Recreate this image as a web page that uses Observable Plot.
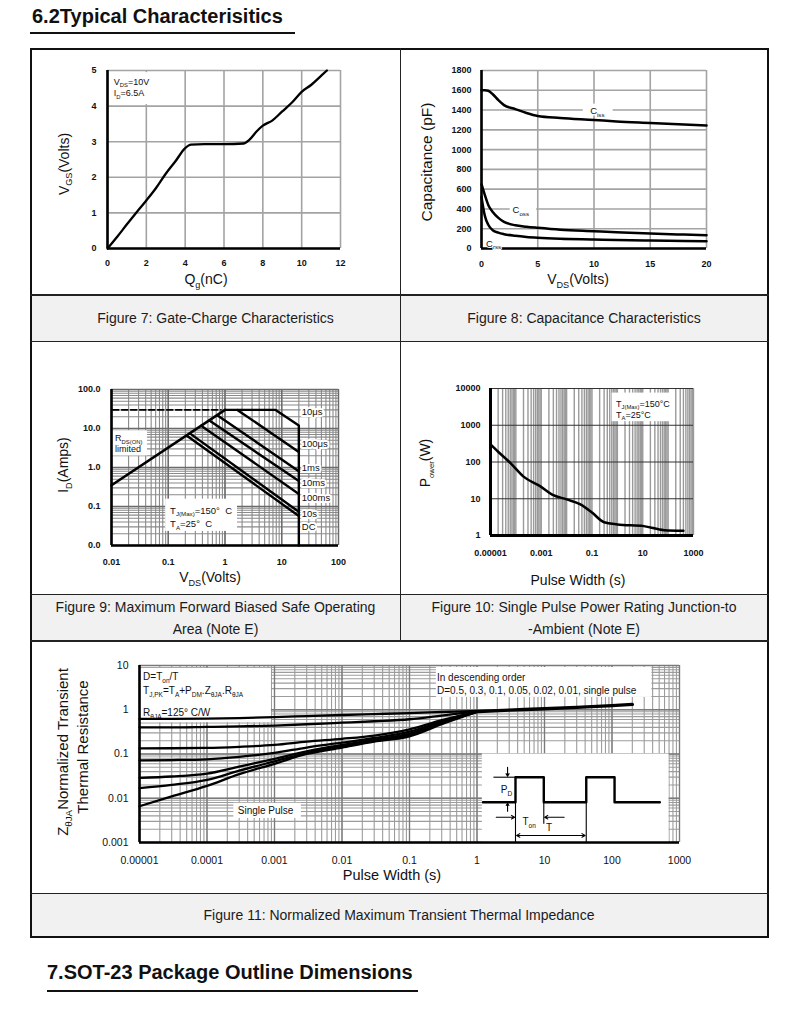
<!DOCTYPE html>
<html>
<head>
<meta charset="utf-8">
<script src="https://cdn.jsdelivr.net/npm/d3@7"></script>
<script src="https://cdn.jsdelivr.net/npm/@observablehq/plot@0.6"></script>
<style>
  html,body{margin:0;padding:0;background:#fff;}
  #page{position:relative;width:790px;height:1026px;overflow:hidden;background:#fff;font-family:"Liberation Sans",Arial,Helvetica,sans-serif;color:#111;}
  .blk{position:absolute;}
  .ttl{position:absolute;font-weight:bold;font-size:20px;line-height:20px;white-space:nowrap;color:#111;}
  .cap{position:absolute;display:flex;flex-direction:column;align-items:center;justify-content:center;font-size:14px;line-height:22px;color:#1b1b1b;text-align:center;background:#f1f1f1;}
</style>
</head>
<body>
<div id="page"></div>
<script>
// ================= DATA =================
const heading1 = "6.2Typical Characterisitics";
const heading2 = "7.SOT-23 Package Outline Dimensions";
const captionFig7 = ["Figure 7: Gate-Charge Characteristics"];
const captionFig8 = ["Figure 8: Capacitance Characteristics"];
const captionFig9 = ["Figure 9: Maximum Forward Biased Safe Operating", "Area (Note E)"];
const captionFig10 = ["Figure 10: Single Pulse Power Rating Junction-to", "-Ambient (Note E)"];
const captionFig11 = ["Figure 11: Normalized Maximum Transient Thermal Impedance"];

// Figure 7: gate charge
const gateQ = [0, 0.5, 1, 1.5, 2, 2.5, 3, 3.5, 4, 4.3, 5, 6, 7, 7.3, 7.7, 8, 8.5, 9, 9.5, 10, 10.5, 11, 11.3];
const gateV = [0, 0.33, 0.68, 1.02, 1.35, 1.7, 2.1, 2.45, 2.82, 2.92, 2.93, 2.93, 2.95, 3.05, 3.3, 3.45, 3.6, 3.85, 4.1, 4.4, 4.6, 4.85, 5];
const gateTicksX = [0, 2, 4, 6, 8, 10, 12];
const gateTicksY = [0, 1, 2, 3, 4, 5];

// Figure 8: capacitance
const capVds  = [0, 0.3, 0.6, 1, 1.5, 2, 3, 4, 5, 7, 10, 12, 15, 18, 20];
const capCiss = [1600, 1600, 1595, 1560, 1500, 1450, 1410, 1370, 1340, 1320, 1300, 1285, 1270, 1255, 1245];
const capCoss = [650, 540, 440, 370, 310, 270, 235, 220, 209, 190, 175, 165, 151, 141, 135];
const capCrss = [520, 330, 240, 185, 160, 145, 128, 116, 108, 98, 91, 86, 81, 77, 74];
const capTicksX = [0, 5, 10, 15, 20];
const capTicksY = [0, 200, 400, 600, 800, 1000, 1200, 1400, 1600, 1800];

// Figure 9: safe operating area
const soaTicksX = [0.01, 0.1, 1, 10, 100];
const soaTickLabelsX = ["0.01", "0.1", "1", "10", "100"];
const soaTicksY = [0.01, 0.1, 1, 10, 100];
const soaTickLabelsY = ["0.0", "0.1", "1.0", "10.0", "100.0"];
const soaRdsV = [0.01, 1],          soaRdsI = [0.35, 30];
const soa10usV = [1, 7.8, 20, 20],  soa10usI = [30, 30, 12, 0.01];
const soa100usV = [1.65, 20],       soa100usI = [30, 2.5];
const soa1msV = [0.73, 20],         soa1msI = [22, 0.8];
const soa10msV = [0.53, 20],        soa10msI = [16, 0.45];
const soa100msV = [0.38, 20],       soa100msI = [11.8, 0.21];
const soa10sV = [0.24, 20],         soa10sI = [7.5, 0.073];
const soaDcV = [0.21, 20],          soaDcI = [6.6, 0.057];
const soaDashV = [0.0105, 0.85],    soaDashI = [30, 30];
const soaLabels = ["10\u03bcs", "100\u03bcs", "1ms", "10ms", "100ms", "10s", "DC"];
const soaLabelI = [25.5, 4.04, 0.97, 0.4, 0.163, 0.063, 0.029];

// Figure 10: single pulse power
const ppT = [1e-5, 2e-5, 6e-5, 2e-4, 9e-4, 2.7e-3, 0.01, 0.035, 0.1, 0.3, 1, 11, 70, 400];
const ppP = [300, 190, 95, 40, 22, 13, 9.6, 7, 4.2, 2.3, 2.0, 1.8, 1.4, 1.35];
const ppTicksX = [1e-5, 1e-3, 0.1, 10, 1000];
const ppTickLabelsX = ["0.00001", "0.001", "0.1", "10", "1000"];
const ppTicksY = [1, 10, 100, 1000, 10000];
const ppTickLabelsY = ["1", "10", "100", "1000", "10000"];

// Figure 11: transient thermal impedance
const thT     = [1e-5, 3e-5, 1e-4, 3e-4, 1e-3, 3e-3, 0.01, 0.03, 0.1, 0.3, 1];
const thZ05   = [0.62, 0.62, 0.63, 0.65, 0.68, 0.72, 0.76, 0.80, 0.84, 0.89, 0.94];
const thZ03   = [0.40, 0.40, 0.41, 0.42, 0.44, 0.47, 0.51, 0.55, 0.61, 0.74, 0.93];
const thZ01   = [0.134, 0.135, 0.137, 0.145, 0.16, 0.19, 0.22, 0.26, 0.36, 0.58, 0.91];
const thZ005  = [0.072, 0.073, 0.076, 0.086, 0.106, 0.14, 0.18, 0.23, 0.32, 0.54, 0.90];
const thZ002  = [0.029, 0.031, 0.036, 0.052, 0.078, 0.115, 0.16, 0.21, 0.29, 0.51, 0.90];
const thZ001  = [0.017, 0.02, 0.026, 0.042, 0.068, 0.105, 0.15, 0.2, 0.27, 0.49, 0.90];
const thZsgl  = [0.0066, 0.011, 0.019, 0.035, 0.06, 0.1, 0.14, 0.19, 0.25, 0.47, 0.90];
const thDuty  = ["0.5", "0.3", "0.1", "0.05", "0.02", "0.01", "single"];
const thTailT = [1, 3, 10, 30, 100, 200];
const thTailZ = [0.91, 0.98, 1.05, 1.13, 1.24, 1.32];
const thTicksX = [1e-5, 1e-4, 1e-3, 0.01, 0.1, 1, 10, 100, 1000];
const thTickLabelsX = ["0.00001", "0.0001", "0.001", "0.01", "0.1", "1", "10", "100", "1000"];
const thTicksY = [0.001, 0.01, 0.1, 1, 10];
const thTickLabelsY = ["0.001", "0.01", "0.1", "1", "10"];

// Pulse diagram inset (units: Ton = 1, pulse height = 1)
const pulseWaveT = [-1.15, 0, 0, 1, 1, 2.5, 2.5, 3.5, 3.5, 5.1];
const pulseWaveL = [0, 0, 1, 1, 0, 0, 1, 1, 0, 0];

// ================= HELPERS =================
const FONT = '"Liberation Sans", Arial, Helvetica, sans-serif';
const page = document.getElementById("page");

function block(x, y, w, h, bg, cls) {
  const d = document.createElement("div");
  d.className = cls || "blk";
  Object.assign(d.style, {left: x + "px", top: y + "px", width: w + "px", height: h + "px"});
  if (bg) d.style.background = bg;
  page.appendChild(d);
  return d;
}
function mount(svg, x, y) {
  const d = document.createElement("div");
  d.className = "blk";
  d.style.left = x + "px"; d.style.top = y + "px";
  d.appendChild(svg);
  page.appendChild(d);
}
function sc(chart, name) {
  const s = chart.scale(name);
  if (s && typeof s.apply === "function") return v => s.apply(v);
  return (s.type === "log" ? d3.scaleLog() : d3.scaleLinear()).domain(s.domain).range(s.range);
}
function rich(svg, x, y, segs, o = {}) {
  const size = o.size || 10;
  if (o.middle) y += 0.35 * size;
  const t = d3.select(svg).append("text")
    .attr("x", x).attr("y", y)
    .attr("text-anchor", o.anchor || "start")
    .attr("fill", o.fill || "#111")
    .style("font-family", FONT)
    .style("font-size", size + "px")
    .style("font-weight", o.weight || "normal");
  if (o.rotate) t.attr("transform", `rotate(${o.rotate},${x},${y})`);
  if (o.halo) t.attr("stroke", "#fff").attr("stroke-width", o.halo).attr("stroke-linejoin", "round").attr("paint-order", "stroke");
  const subSize = size * (o.subScale || 0.65), drop = size * 0.28;
  let inSub = false;
  segs.forEach(s => {
    const sub = Array.isArray(s);
    const ts = t.append("tspan").text(sub ? s[0] : s);
    if (sub) { ts.style("font-size", subSize + "px"); if (!inSub) ts.attr("dy", drop); }
    else if (inSub) ts.attr("dy", -drop);
    inSub = sub;
  });
  return t;
}
function logTicks(lo, hi) {
  const out = [];
  for (let e = lo; e < hi; e++) for (let k = 1; k < 10; k++) out.push(+(k * Math.pow(10, e)).toPrecision(6));
  out.push(Math.pow(10, hi));
  return out;
}
const baseStyle = (size, weight) => ({fontFamily: FONT, fontSize: size + "px", fontWeight: weight, color: "#111", background: "transparent", overflow: "visible"});
const labelMap = (vals, labels) => d => { const i = vals.findIndex(v => Math.abs(v - d) / v < 1e-6); return i >= 0 ? labels[i] : ""; };
const plain = d => String(d);
const pairs = (xs, ys) => xs.map((x, i) => ({x, y: ys[i]}));

// ================= PAGE LAYOUT =================
const h1 = block(32, 6, 400, 22, null, "ttl"); h1.textContent = heading1;
block(30, 32, 265, 2, "#111");
const h2 = block(47, 962, 500, 22, null, "ttl"); h2.textContent = heading2;
block(47, 990, 371, 2, "#111");

function caption(x, y, w, h, lines) {
  const c = block(x, y, w, h, null, "cap");
  lines.forEach(l => { const s = document.createElement("div"); s.textContent = l; c.appendChild(s); });
}
caption(31, 295, 369, 46, captionFig7);
caption(401, 295, 366, 46, captionFig8);
caption(31, 595, 369, 45, captionFig9);
caption(401, 595, 366, 45, captionFig10);
caption(31, 894, 736, 42, captionFig11);

// borders
const border = block(30, 48, 739, 890, null);
border.style.boxSizing = "border-box"; border.style.border = "2px solid #111";
block(399.5, 48, 1.5, 593, "#222");
[294, 340.5, 593.5, 640, 892.5].forEach(y => block(30, y, 739, 1.5, "#222"));

// ================= FIGURE 7 =================
const f7 = Plot.plot({
  width: 330, height: 240, marginLeft: 67, marginRight: 30, marginTop: 15, marginBottom: 47,
  style: baseStyle(9, "bold"),
  x: {domain: [0, 12], ticks: gateTicksX, tickFormat: plain, tickSize: 0, tickPadding: 11, label: null},
  y: {domain: [0, 5], ticks: gateTicksY, tickFormat: plain, tickSize: 0, tickPadding: 11, label: null},
  marks: [
    Plot.ruleX(gateTicksX, {stroke: "#a3a3a3", strokeWidth: 1.6}),
    Plot.ruleY(gateTicksY, {stroke: "#a3a3a3", strokeWidth: 1.6}),
    Plot.rect([0], {x1: 0.15, x2: 3.35, y1: 4.04, y2: 4.94, fill: "white"}),
    Plot.ruleX([0], {stroke: "#000", strokeWidth: 2.6}),
    Plot.ruleY([0], {stroke: "#000", strokeWidth: 2.6}),
    Plot.line(pairs(gateQ, gateV), {x: "x", y: "y", stroke: "#000", strokeWidth: 2.3, curve: "monotone-x"})
  ]
});
mount(f7, 40, 55);
{
  const x = sc(f7, "x"), y = sc(f7, "y");
  rich(f7, x(0.35), y(4.58), ["V", ["DS"], "=10V"], {size: 9});
  rich(f7, x(0.35), y(4.27), ["I", ["D"], "=6.5A"], {size: 9});
  rich(f7, 23.5 + 5, 109, ["V", ["GS"], "(Volts)"], {size: 14, rotate: -90, anchor: "middle"});
  rich(f7, 166, 229, ["Q", ["g"], "(nC)"], {size: 14, anchor: "middle"});
}

// ================= FIGURE 8 =================
const f8 = Plot.plot({
  width: 330, height: 240, marginLeft: 76, marginRight: 29, marginTop: 15, marginBottom: 47,
  style: baseStyle(9, "bold"),
  x: {domain: [0, 20], ticks: capTicksX, tickFormat: plain, tickSize: 0, tickPadding: 12, label: null},
  y: {domain: [0, 1800], ticks: capTicksY, tickFormat: plain, tickSize: 0, tickPadding: 10, label: null},
  marks: [
    Plot.ruleX(capTicksX, {stroke: "#a3a3a3", strokeWidth: 1.6}),
    Plot.ruleY(capTicksY, {stroke: "#a3a3a3", strokeWidth: 1.6}),
    Plot.rect([0], {x1: 9.05, x2: 11.7, y1: 1340, y2: 1460, fill: "white"}),
    Plot.rect([0], {x1: 2.55, x2: 4.9, y1: 330, y2: 450, fill: "white"}),
    Plot.ruleX([0], {stroke: "#000", strokeWidth: 2.6}),
    Plot.ruleY([0], {stroke: "#000", strokeWidth: 2.6}),
    Plot.line(pairs(capVds, capCiss), {x: "x", y: "y", stroke: "#000", strokeWidth: 2.5, curve: "monotone-x"}),
    Plot.line(pairs(capVds, capCoss), {x: "x", y: "y", stroke: "#000", strokeWidth: 2.5, curve: "monotone-x"}),
    Plot.line(pairs(capVds, capCrss), {x: "x", y: "y", stroke: "#000", strokeWidth: 2.5, curve: "monotone-x"})
  ]
});
mount(f8, 405, 55);
{
  const x = sc(f8, "x"), y = sc(f8, "y");
  rich(f8, x(9.7), y(1355), ["C", ["iss"]], {size: 9.5});
  rich(f8, x(2.8), y(350), ["C", ["oss"]], {size: 9.5});
  rich(f8, x(0.45), y(15), ["C", ["rss"]], {size: 9.5, halo: 2});
  rich(f8, 21 + 5.6, 107, ["Capacitance (pF)"], {size: 15.5, rotate: -90, anchor: "middle"});
  rich(f8, 173, 229, ["V", ["DS"], "(Volts)"], {size: 14, anchor: "middle"});
}

// ================= FIGURE 9 =================
const soaGrid = logTicks(-2, 2);
const soaLines = [
  [soa10usV, soa10usI], [soa100usV, soa100usI], [soa1msV, soa1msI], [soa10msV, soa10msI],
  [soa100msV, soa100msI], [soa10sV, soa10sI], [soaDcV, soaDcI]
];
const f9 = Plot.plot({
  width: 330, height: 215, marginLeft: 71, marginRight: 32, marginTop: 14, marginBottom: 45,
  style: baseStyle(9, "bold"),
  x: {type: "log", domain: [0.01, 100], ticks: soaTicksX, tickFormat: labelMap(soaTicksX, soaTickLabelsX), tickSize: 0, tickPadding: 13, label: null},
  y: {type: "log", domain: [0.01, 100], ticks: soaTicksY, tickFormat: labelMap(soaTicksY, soaTickLabelsY), tickSize: 0, tickPadding: 11, label: null},
  marks: [
    Plot.ruleX(soaGrid, {stroke: "#8a8a8a", strokeWidth: 1.1}),
    Plot.ruleY(soaGrid, {stroke: "#8a8a8a", strokeWidth: 1.1}),
    Plot.ruleX(soaTicksX, {stroke: "#6a6a6a", strokeWidth: 1.4}),
    Plot.ruleY(soaTicksY, {stroke: "#6a6a6a", strokeWidth: 1.4}),
    Plot.rect([0], {x1: 0.0102, x2: 0.043, y1: 1.98, y2: 8.75, fill: "white"}),
    Plot.rect([0], {x1: 0.09, x2: 1.66, y1: 0.023, y2: 0.154, fill: "white"}),
    Plot.ruleX([0.01], {stroke: "#000", strokeWidth: 2.6}),
    Plot.ruleY([0.01], {stroke: "#000", strokeWidth: 2.6}),
    Plot.line(pairs(soaDashV, soaDashI), {x: "x", y: "y", stroke: "#000", strokeWidth: 1.6, strokeDasharray: "6,3"}),
    Plot.line(pairs(soaRdsV, soaRdsI), {x: "x", y: "y", stroke: "#000", strokeWidth: 2.6}),
    ...soaLines.map(([v, i]) => Plot.line(pairs(v, i), {x: "x", y: "y", stroke: "#000", strokeWidth: 2.4}))
  ]
});
mount(f9, 40, 375);
{
  const x = sc(f9, "x"), y = sc(f9, "y");
  soaLabels.forEach((lab, k) => rich(f9, x(23), y(soaLabelI[k]), [lab], {size: 9.5, middle: true, halo: 4}));
  rich(f9, x(0.0118), y(4.55), ["R", ["DS(ON)"]], {size: 9});
  rich(f9, x(0.0118), y(2.37), ["limited"], {size: 9});
  rich(f9, x(0.11), y(0.063), ["T", ["J(Max)"], "=150\u00b0  C"], {size: 9.5});
  rich(f9, x(0.11), y(0.029), ["T", ["A"], "=25\u00b0  C"], {size: 9.5});
  rich(f9, 23 + 5, 90, ["I", ["D"], "(Amps)"], {size: 14, rotate: -90, anchor: "middle"});
  rich(f9, 170, 207, ["V", ["DS"], "(Volts)"], {size: 14, anchor: "middle"});
}

// ================= FIGURE 10 =================
const ppGrid = logTicks(-5, 3);
const f10 = Plot.plot({
  width: 300, height: 215, marginLeft: 80, marginRight: 17, marginTop: 13, marginBottom: 55,
  style: baseStyle(9, "bold"),
  x: {type: "log", domain: [1e-5, 1000], ticks: ppTicksX, tickFormat: labelMap(ppTicksX, ppTickLabelsX), tickSize: 0, tickPadding: 14, label: null},
  y: {type: "log", domain: [1, 10000], ticks: ppTicksY, tickFormat: labelMap(ppTicksY, ppTickLabelsY), tickSize: 0, tickPadding: 10, label: null},
  marks: [
    Plot.ruleX(ppGrid, {stroke: "#9a9a9a", strokeWidth: 1.4}),
    Plot.ruleY(ppTicksY, {stroke: "#333", strokeWidth: 1}),
    Plot.rect([0], {x1: 0.62, x2: 115, y1: 1250, y2: 7500, fill: "white"}),
    Plot.ruleX([1e-5], {stroke: "#000", strokeWidth: 3}),
    Plot.ruleY([1], {stroke: "#000", strokeWidth: 3}),
    Plot.line(pairs(ppT, ppP), {x: "x", y: "y", stroke: "#000", strokeWidth: 2.5, curve: "monotone-x"})
  ]
});
mount(f10, 410, 375);
{
  const x = sc(f10, "x"), y = sc(f10, "y");
  rich(f10, x(0.93), y(3100), ["T", ["J(Max)"], "=150\u00b0C"], {size: 9});
  rich(f10, x(0.93), y(1550), ["T", ["A"], "=25\u00b0C"], {size: 9});
  rich(f10, 15 + 5, 88, ["P", ["ower"], "(W)"], {size: 14, rotate: -90, anchor: "middle", subScale: 0.55});
  rich(f10, 168, 210, ["Pulse Width (s)"], {size: 14, anchor: "middle"});
}

// ================= FIGURE 11 =================
const thSeries = [thZ05, thZ03, thZ01, thZ005, thZ002, thZ001, thZsgl];
const thTable = thSeries.flatMap((zs, k) => thT.map((t, i) => ({t, z: zs[i], d: thDuty[k]})));
const thGrid = logTicks(-5, 3);
const thGridY = logTicks(-3, 1);
const f11 = Plot.plot({
  width: 700, height: 235, marginLeft: 99, marginRight: 61, marginTop: 10, marginBottom: 48,
  style: baseStyle(10.5, "normal"),
  x: {type: "log", domain: [1e-5, 1000], ticks: thTicksX, tickFormat: labelMap(thTicksX, thTickLabelsX), tickSize: 0, tickPadding: 14, label: null},
  y: {type: "log", domain: [0.001, 10], ticks: thTicksY, tickFormat: labelMap(thTicksY, thTickLabelsY), tickSize: 0, tickPadding: 11, label: null},
  marks: [
    Plot.ruleX(thGrid, {stroke: "#9c9c9c", strokeWidth: 1.1}),
    Plot.ruleY(thGridY, {stroke: "#9c9c9c", strokeWidth: 1.1}),
    Plot.ruleX(thTicksX, {stroke: "#7a7a7a", strokeWidth: 1.3}),
    Plot.ruleY(thTicksY, {stroke: "#7a7a7a", strokeWidth: 1.3}),
    Plot.rect([0], {x1: 1e-5, x2: 9e-4, y1: 0.51, y2: 8.6, fill: "white"}),
    Plot.rect([0], {x1: 0.25, x2: 390, y1: 1.9, y2: 9, fill: "white"}),
    Plot.rect([0], {x1: 2.5e-4, x2: 2.5e-3, y1: 0.0035, y2: 0.0077, fill: "white"}),
    Plot.rect([0], {x1: 1.2, x2: 700, y1: 0.001, y2: 0.1, fill: "white"}),
    Plot.ruleX([1e-5], {stroke: "#000", strokeWidth: 2.6}),
    Plot.ruleY([0.001], {stroke: "#000", strokeWidth: 2.6}),
    Plot.line(thTable, {x: "t", y: "z", z: "d", stroke: "#000", strokeWidth: 2.3, curve: "monotone-x"}),
    Plot.line(pairs(thTailT, thTailZ), {x: "x", y: "y", stroke: "#000", strokeWidth: 3.4, curve: "monotone-x"})
  ]
});
mount(f11, 40, 655);
{
  const x = sc(f11, "x"), y = sc(f11, "y");
  rich(f11, x(1.15e-5), y(4.5), ["D=T", ["on"], "/T"], {size: 10});
  rich(f11, x(1.15e-5), y(2.2), ["T", ["J,PK"], "=T", ["A"], "+P", ["DM"], ".Z", ["\u03b8JA"], ".R", ["\u03b8JA"]], {size: 10});
  rich(f11, x(1.15e-5), y(0.69), ["R", ["\u03b8JA"], "=125\u00b0 C/W"], {size: 10});
  rich(f11, x(0.26), y(4.3), ["In descending order"], {size: 10});
  rich(f11, x(0.26), y(2.18), ["D=0.5, 0.3, 0.1, 0.05, 0.02, 0.01, single pulse"], {size: 10});
  rich(f11, x(7.5e-4), y(0.0044), ["Single Pulse"], {size: 10, anchor: "middle"});
  rich(f11, 22.5 + 5.4, 97, ["Z", ["\u03b8JA"], "Normalized Transient"], {size: 15, rotate: -90, anchor: "middle"});
  rich(f11, 42.5 + 5.4, 92, ["Thermal Resistance"], {size: 15, rotate: -90, anchor: "middle"});
  rich(f11, 352, 225, ["Pulse Width (s)"], {size: 14.5, anchor: "middle"});
}

// Pulse diagram inset (own linear scales)
const insetLinks = [
  {x1: -0.78, y1: 1, x2: 0, y2: 1},
  {x1: 0, y1: 0, x2: 0, y2: -1.61},
  {x1: 1, y1: 0, x2: 1, y2: -0.86},
  {x1: 2.5, y1: 0, x2: 2.5, y2: -1.61}
];
const insetArrows = [
  {x1: -0.28, y1: 1.4, x2: -0.28, y2: 1.04},
  {x1: -0.28, y1: -0.36, x2: -0.28, y2: -0.04},
  {x1: -0.68, y1: -0.6, x2: -0.03, y2: -0.6},
  {x1: 1.72, y1: -0.6, x2: 1.03, y2: -0.6},
  {x1: 1.25, y1: -1.33, x2: 0.04, y2: -1.33},
  {x1: 1.25, y1: -1.33, x2: 2.46, y2: -1.33}
];
const inset = Plot.plot({
  width: 190, height: 89, marginLeft: 0, marginRight: 0, marginTop: 0, marginBottom: 0,
  style: baseStyle(10, "normal"),
  x: {domain: [-1.307, 5.406], axis: null},
  y: {domain: [-1.612, 1.948], axis: null},
  marks: [
    Plot.link(insetLinks, {x1: "x1", y1: "y1", x2: "x2", y2: "y2", stroke: "#000", strokeWidth: 1.1}),
    Plot.arrow(insetArrows, {x1: "x1", y1: "y1", x2: "x2", y2: "y2", stroke: "#000", strokeWidth: 1.1, headLength: 5}),
    Plot.line(pairs(pulseWaveT, pulseWaveL), {x: "x", y: "y", stroke: "#000", strokeWidth: 2.4})
  ]
});
mount(inset, 478, 753);
{
  const x = sc(inset, "x"), y = sc(inset, "y");
  rich(inset, x(-0.3), y(0.5), ["P", ["D"]], {size: 10, anchor: "middle", middle: true});
  rich(inset, x(0.5), y(-0.8), ["T", ["on"]], {size: 10, anchor: "middle", middle: true});
  rich(inset, x(1.2), y(-1.05), ["T"], {size: 10, anchor: "middle", middle: true});
}
</script>
</body>
</html>
